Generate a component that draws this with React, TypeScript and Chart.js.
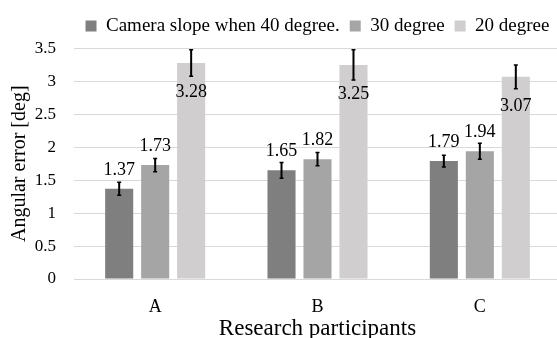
import { useEffect, useRef } from "react";
import { Chart, registerables } from "chart.js";

Chart.register(...registerables);

const categories = ["A", "B", "C"];
const seriesNames = ["Camera slope when 40 degree.", "30 degree", "20 degree"];
const values40 = [1.37, 1.65, 1.79];
const values30 = [1.73, 1.82, 1.94];
const values20 = [3.28, 3.25, 3.07];
const errors40 = [0.1, 0.12, 0.09];
const errors30 = [0.1, 0.1, 0.12];
const errors20 = [0.2, 0.23, 0.18];
const yTickLabels = ["0", "0.5", "1", "1.5", "2", "2.5", "3", "3.5"];
const yMin = 0;
const yMax = 3.5;
const yStep = 0.5;
const xTitle = "Research participants";
const yTitle = "Angular error [deg]";

const colors = ["#7f7f7f", "#a5a5a5", "#d0cece"];
const FONT = "Liberation Serif";
Chart.defaults.font.family = FONT;

const legendSpacer = {
  id: "legendSpacer",
  beforeLayout(chart: any) {
    const lg = chart.legend;
    if (lg && !lg.__patched) {
      const orig = lg.fit;
      lg.fit = function () {
        orig.call(this);
        this.height += 3;
      };
      lg.__patched = true;
    }
  },
};

const errorBarPlugin = {
  id: "errorBars",
  afterDatasetsDraw(chart: any) {
    const ctx = chart.ctx;
    const y = chart.scales.y;
    chart.data.datasets.forEach((ds: any, i: number) => {
      const meta = chart.getDatasetMeta(i);
      meta.data.forEach((bar: any, j: number) => {
        const v = ds.data[j];
        const e = ds.errors[j];
        const yTop = y.getPixelForValue(v + e);
        const yBot = y.getPixelForValue(v - e);
        ctx.save();
        ctx.strokeStyle = "#000";
        ctx.lineWidth = 2;
        ctx.beginPath();
        ctx.moveTo(bar.x, yTop);
        ctx.lineTo(bar.x, yBot);
        ctx.stroke();
        ctx.lineWidth = 1.5;
        ctx.beginPath();
        ctx.moveTo(bar.x - 2, yTop);
        ctx.lineTo(bar.x + 2, yTop);
        ctx.moveTo(bar.x - 2, yBot);
        ctx.lineTo(bar.x + 2, yBot);
        ctx.stroke();
        ctx.restore();
      });
    });
  },
};

const labelPlugin = {
  id: "valueLabels",
  afterDatasetsDraw(chart: any) {
    const ctx = chart.ctx;
    chart.data.datasets.forEach((ds: any, i: number) => {
      const meta = chart.getDatasetMeta(i);
      meta.data.forEach((bar: any, j: number) => {
        const v = ds.data[j];
        ctx.save();
        ctx.font = `18px ${FONT}`;
        ctx.fillStyle = "#000";
        ctx.textAlign = "center";
        ctx.textBaseline = "middle";
        const yy = ds.labelInside ? bar.y + 29 : bar.y - 19;
        ctx.fillText(v.toFixed(2), bar.x, yy);
        ctx.restore();
      });
    });
  },
};

export default function App() {
  const ref = useRef<HTMLCanvasElement | null>(null);
  useEffect(() => {
    if (!ref.current) return;
    const chart = new Chart(ref.current, {
      type: "bar",
      data: {
        labels: categories,
        datasets: [
          { label: seriesNames[0], data: values40, errors: errors40, backgroundColor: colors[0] } as any,
          { label: seriesNames[1], data: values30, errors: errors30, backgroundColor: colors[1] } as any,
          { label: seriesNames[2], data: values20, errors: errors20, backgroundColor: colors[2], labelInside: true } as any,
        ],
      },
      options: {
        animation: false,
        responsive: true,
        maintainAspectRatio: false,
        layout: { padding: { top: 6.5, right: 3, left: 0, bottom: 0 } },
        datasets: { bar: { categoryPercentage: 0.665, barPercentage: 0.78, borderWidth: 0 } },
        plugins: {
          legend: {
            position: "top",
            fullSize: false,
            labels: {
              boxWidth: 11,
              boxHeight: 11,
              padding: 10,
              color: "#000",
              font: { family: FONT, size: 19 },
            },
          },
          tooltip: { enabled: false },
        },
        scales: {
          x: {
            grid: { display: false, drawTicks: false },
            border: { display: true, color: "#d9d9d9", width: 1 },
            ticks: { color: "#000", padding: 17, font: { family: FONT, size: 18 } },
            title: {
              display: true,
              text: xTitle,
              color: "#000",
              font: { family: FONT, size: 23 },
              padding: { top: 0, bottom: -5 },
            },
            afterFit: (s: any) => {
              s.height = 59;
            },
          },
          y: {
            min: yMin,
            max: yMax,
            ticks: {
              stepSize: yStep,
              color: "#000",
              padding: 18,
              font: { family: FONT, size: 17 },
              callback: (_v: any, i: number) => yTickLabels[i],
            },
            grid: { color: "#d9d9d9", drawTicks: false, lineWidth: 1 },
            border: { display: false },
            title: {
              display: true,
              text: yTitle,
              color: "#000",
              font: { family: FONT, size: 20 },
              padding: { top: 8, bottom: 0 },
            },
            afterFit: (s: any) => {
              s.width = 74;
            },
          },
        },
      },
      plugins: [legendSpacer, errorBarPlugin, labelPlugin],
    });
    return () => chart.destroy();
  }, []);
  return (
    <div style={{ position: "fixed", left: 0, top: 0, width: 557, height: 338, overflow: "hidden", background: "#fff" }}>
      <div style={{ position: "relative", width: 564, height: 338 }}>
        <canvas ref={ref} />
      </div>
    </div>
  );
}
